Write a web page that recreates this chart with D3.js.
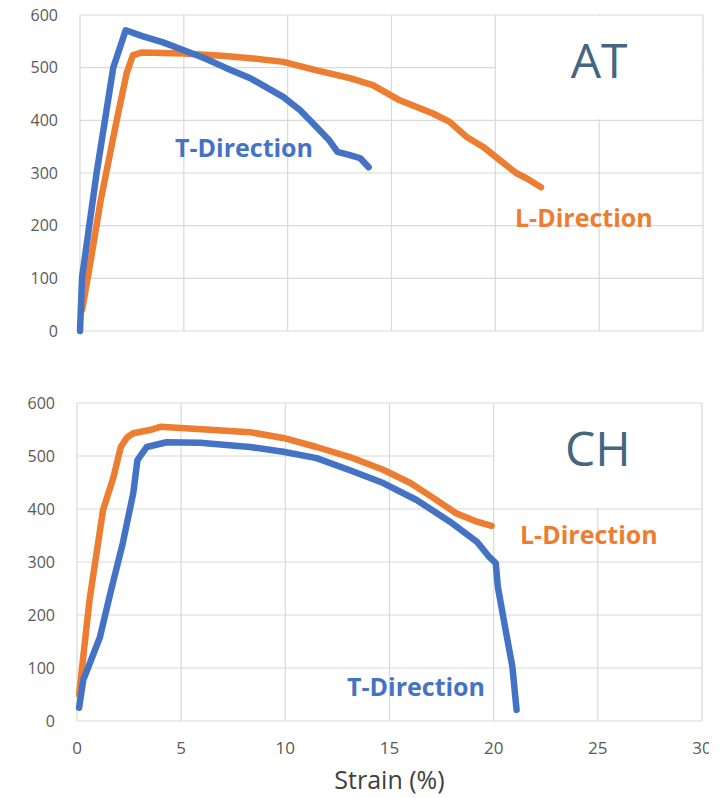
<!DOCTYPE html>
<html>
<head>
<meta charset="utf-8">
<script src="https://cdn.jsdelivr.net/npm/d3@7"></script>
<style>
  body { margin: 0; background: #fff; }
  svg { display: block; }
</style>
</head>
<body>
<div id="chart"></div>
<script>
// tick values
const xTicks = [0, 5, 10, 15, 20, 25, 30];
const yTicks = [0, 100, 200, 300, 400, 500, 600];

// AT panel, T-Direction (blue)
const atTStrain = [0, 0.1, 0.8, 1.6, 2.2, 3, 4, 5, 6, 7, 8.2, 9.8, 10.6, 11.4, 12.0, 12.4, 13.0, 13.5, 13.9];
const atTStress = [0, 102, 300, 500, 571, 560, 548, 533, 518, 500, 480, 444, 419, 387, 362, 340, 334, 328, 311];

// AT panel, L-Direction (orange)
const atLStrain = [0.1, 0.5, 1.0, 1.8, 2.25, 2.55, 3, 5, 7, 8.2, 9.8, 11.4, 13, 14.1, 15.4, 17.0, 17.8, 18.6, 19.4, 20.2, 21.0, 21.5, 22.2];
const atLStress = [40, 130, 249, 406, 490, 524, 529, 527, 522, 518, 511, 495, 480, 467, 438, 413, 397, 369, 350, 325, 300, 290, 273];

// CH panel, L-Direction (orange)
const chLStrain = [0.1, 0.6, 1.25, 1.75, 2.1, 2.4, 2.7, 3.5, 4, 5, 8.3, 9.9, 11.5, 13.1, 14.7, 16.0, 17.1, 18.2, 19.2, 19.9];
const chLStress = [50, 228, 398, 460, 517, 535, 543, 549, 555, 553, 545, 534, 517, 498, 474, 449, 421, 392, 376, 368];

// CH panel, T-Direction (blue)
const chTStrain = [0.1, 0.3, 1.1, 1.6, 2.2, 2.7, 2.9, 3.35, 4.3, 5.9, 8.3, 9.9, 11.5, 13.1, 14.7, 16.3, 17.9, 19.2, 19.8, 20.1, 20.2, 20.6, 20.9, 21.1];
const chTStress = [25, 77, 158, 241, 336, 430, 492, 517, 526, 525, 517, 508, 496, 473, 449, 417, 376, 338, 309, 298, 253, 166, 102, 21];

const blue = "#4472C4", orange = "#ED7D31";

const svg = d3.select("#chart").append("svg")
    .attr("width", 726)
    .attr("height", 798);

svg.append("defs").append("clipPath").attr("id", "edge")
    .append("rect").attr("x", 0).attr("y", 0).attr("width", 709).attr("height", 798);

function zip(xs, ys) {
    return xs.map(function (x, i) { return [x, ys[i]]; });
}

function panel(opt) {
    const x = d3.scaleLinear().domain([0, 30]).range([opt.left, opt.right]);
    const y = d3.scaleLinear().domain([0, 600]).range([opt.bottom, opt.top]);
    const g = svg.append("g");

    // gridlines
    g.selectAll(".gx").data(xTicks).enter().append("line")
        .attr("x1", d => x(d)).attr("x2", d => x(d))
        .attr("y1", y(0)).attr("y2", y(600))
        .attr("stroke", "#d9d9d9").attr("stroke-width", 1.2);
    g.selectAll(".gy").data(yTicks).enter().append("line")
        .attr("x1", x(0)).attr("x2", x(30))
        .attr("y1", d => y(d)).attr("y2", d => y(d))
        .attr("stroke", "#d9d9d9").attr("stroke-width", 1.2);

    // white box behind the panel name
    g.append("rect")
        .attr("x", x(20) + 1).attr("y", y(600) + 1)
        .attr("width", x(30) - x(20) - 2).attr("height", y(400) - y(600) - 2)
        .attr("fill", "#fff");

    // y tick labels
    g.selectAll(".ty").data(yTicks).enter().append("text")
        .attr("x", x(0) - 22).attr("y", d => y(d))
        .attr("dy", "0.36em")
        .attr("text-anchor", "end")
        .attr("font-family", "Open Sans")
        .attr("font-size", 16)
        .attr("fill", "#595959")
        .text(d => d);

    if (opt.xLabels) {
        g.selectAll(".tx").data(xTicks).enter().append("text")
            .attr("x", d => x(d)).attr("y", y(0) + 27)
            .attr("dy", "0.36em")
            .attr("text-anchor", "middle")
            .attr("font-family", "Open Sans")
            .attr("font-size", 17)
            .attr("fill", "#595959")
            .attr("clip-path", "url(#edge)")
            .text(d => d);
    }

    const line = d3.line().x(d => x(d[0])).y(d => y(d[1]));
    opt.series.forEach(function (s) {
        g.append("path")
            .datum(zip(s.xs, s.ys))
            .attr("d", line)
            .attr("fill", "none")
            .attr("stroke", s.color)
            .attr("stroke-width", 6.5)
            .attr("stroke-linejoin", "round")
            .attr("stroke-linecap", "round");
    });

    opt.labels.forEach(function (l) {
        g.append("text")
            .attr("x", l.x).attr("y", l.y)
            .attr("dy", "0.36em")
            .attr("font-family", "Open Sans")
            .attr("font-weight", 700)
            .attr("font-size", 25)
            .attr("fill", l.color)
            .text(l.text);
    });

    g.append("text")
        .attr("x", x(25)).attr("y", y(600) + 46)
        .attr("text-anchor", "middle")
        .attr("dy", "0.36em")
        .attr("font-family", "Open Sans")
        .attr("font-size", 48)
        .attr("fill", "#44677F")
        .text(opt.name);
    return {x: x, y: y};
}

panel({
    left: 80, right: 703, top: 15, bottom: 331, name: "AT", xLabels: false,
    series: [
        {xs: atLStrain, ys: atLStress, color: orange},
        {xs: atTStrain, ys: atTStress, color: blue}
    ],
    labels: [
        {text: "T-Direction", x: 175, y: 148, color: blue},
        {text: "L-Direction", x: 515, y: 218, color: orange}
    ]
});

const ch = panel({
    left: 77, right: 702, top: 403, bottom: 721, name: "CH", xLabels: true,
    series: [
        {xs: chLStrain, ys: chLStress, color: orange},
        {xs: chTStrain, ys: chTStress, color: blue}
    ],
    labels: [
        {text: "L-Direction", x: 520, y: 535, color: orange},
        {text: "T-Direction", x: 347, y: 687, color: blue}
    ]
});

svg.append("text")
    .attr("x", ch.x(15)).attr("y", 780)
    .attr("dy", "0.36em")
    .attr("text-anchor", "middle")
    .attr("font-family", "Open Sans")
    .attr("font-size", 25)
    .attr("fill", "#404040")
    .text("Strain (%)");
</script>
</body>
</html>
